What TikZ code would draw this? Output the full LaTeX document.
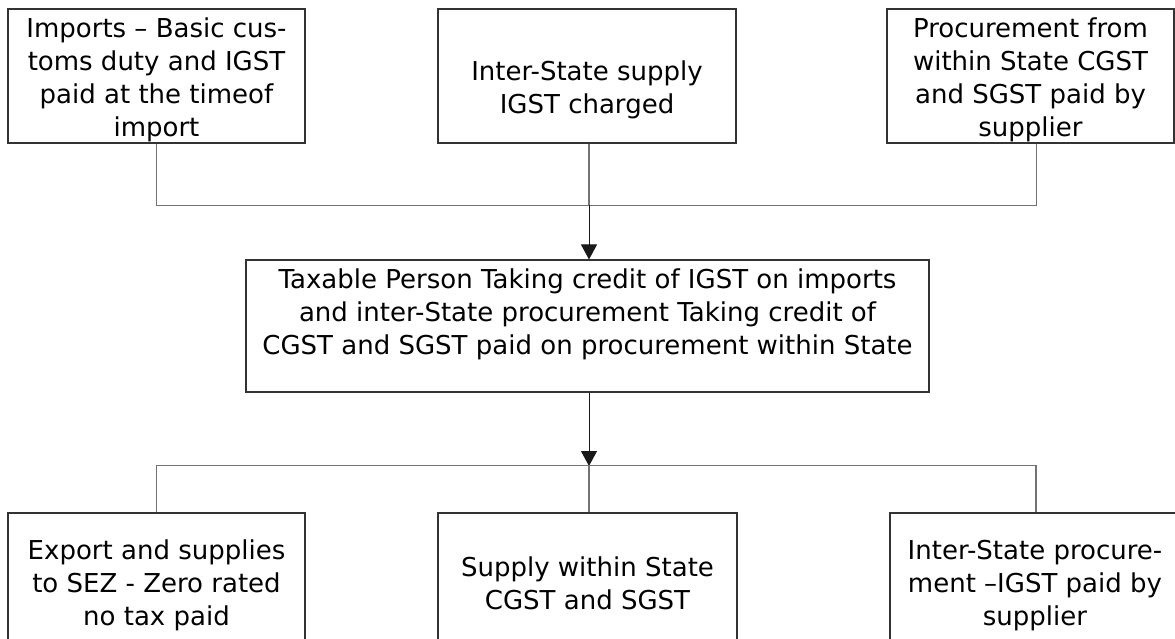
\documentclass[tikz,border=0pt]{standalone}
\usepackage{fontspec}
\setmainfont{DejaVu Sans}
\usetikzlibrary{arrows.meta,positioning}

\begin{document}
\begin{tikzpicture}[x=1pt, y=-1pt,
				box/.style={
				% The shape:
				rectangle,
				% The size:
				inner sep=0pt,
				% The border:
				draw=black!80, line width=1.1pt,
				% The text:
				align=center,
				font=\fontsize{26}{33}\selectfont
				},
				link/.style={
				draw=black!55, line width=1.1pt
				},
				feed/.style={
				draw=black!90, line width=1pt,
				-{Triangle[width=16pt,length=15pt]}
				},
				]
    \useasboundingbox (0,0) rectangle (1175,638);
    \clip (0,0) rectangle (1175,638);
    % sources
    \node [box, text height=120pt, text depth=0pt, minimum width=297pt, minimum height=134pt] (imports) at (156.5,76)
        {Imports -- Basic cus-\\toms duty and IGST\\paid at the timeof\\import};
    \node [box, text height=74pt, text depth=0pt, minimum width=298pt, minimum height=134pt] (interstate) at (587,76)
        {Inter-State supply\\IGST charged};
    \node [box, text height=120pt, text depth=0pt, minimum width=287pt, minimum height=134pt] (procure) at (1030.5,76)
        {Procurement from\\within State CGST\\and SGST paid by\\supplier};
    % taxable person
    \node [box, text height=57pt, text depth=0pt, minimum width=683pt, minimum height=132pt] (taxperson) at (587.5,326)
        {Taxable Person Taking credit of IGST on imports\\and inter-State procurement Taking credit of\\CGST and SGST paid on procurement within State};
    % outputs
    \node [box, text height=85pt, text depth=0pt, minimum width=297pt, minimum height=140pt] (export) at (156.5,583)
        {Export and supplies\\to SEZ - Zero rated\\no tax paid};
    \node [box, text height=53pt, text depth=0pt, minimum width=299pt, minimum height=140pt] (within) at (587.5,583)
        {Supply within State\\CGST and SGST};
    \node [box, text height=85pt, text depth=0pt, minimum width=290pt, minimum height=140pt] (interproc) at (1035,583)
        {Inter-State procure-\\ment --IGST paid by\\supplier};
    \coordinate (topbus) at (589,205);
    \coordinate (botbus) at (589,466);

    \draw [link] (imports.south) -- ++(0,62) -| ([xshift=6pt]procure.south);
    \draw [link] ([xshift=2pt]interstate.south) -- (topbus);
    \draw [feed] (topbus) -- ([xshift=1.5pt]taxperson.north);
    \draw [feed] ([xshift=1.5pt]taxperson.south) -- (botbus);
    \draw [link] (export.north) -- ++(0,-47) -| ([xshift=1pt]interproc.north);
    \draw [link] (botbus) -- ([xshift=1.5pt]within.north);
\end{tikzpicture}
\end{document}
